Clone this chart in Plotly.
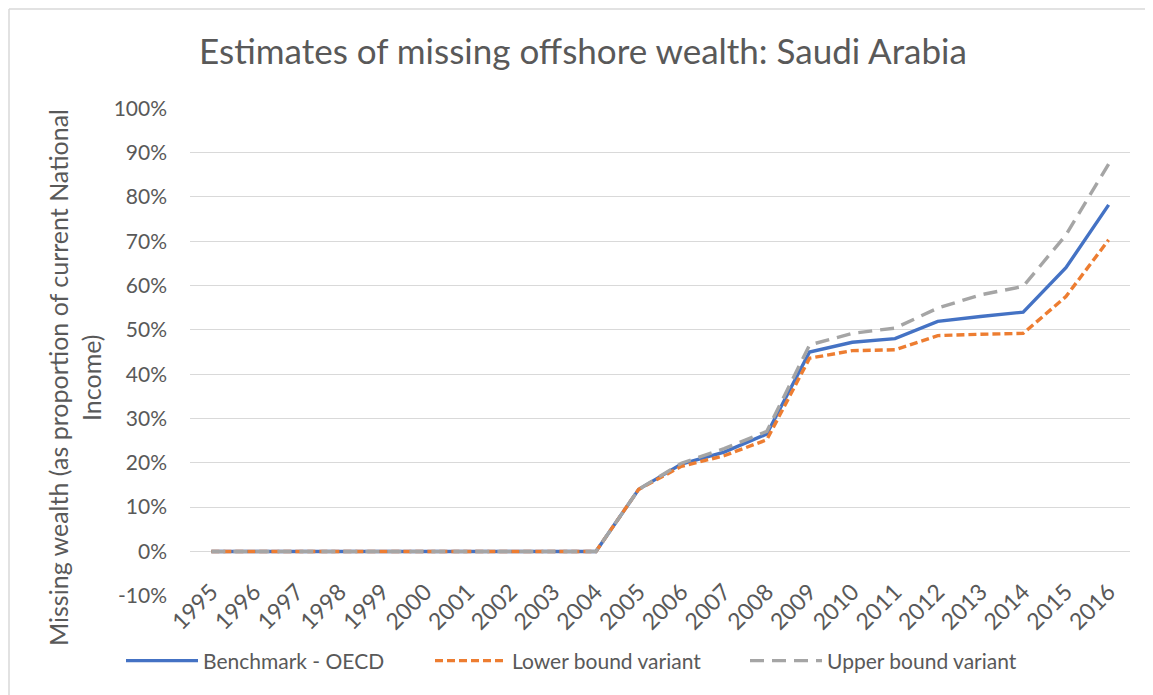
import plotly.graph_objects as go

years = [str(y) for y in range(1995, 2017)]

benchmark = [0, 0, 0, 0, 0, 0, 0, 0, 0, 0,
             0.140, 0.197, 0.224, 0.265, 0.450, 0.472, 0.480, 0.519, 0.530, 0.540, 0.640, 0.782]
lower = [0, 0, 0, 0, 0, 0, 0, 0, 0, 0,
         0.140, 0.192, 0.216, 0.252, 0.436, 0.453, 0.455, 0.487, 0.490, 0.492, 0.575, 0.703]
upper = [0, 0, 0, 0, 0, 0, 0, 0, 0, 0,
         0.140, 0.199, 0.232, 0.271, 0.466, 0.492, 0.504, 0.549, 0.579, 0.598, 0.714, 0.874]

y_ticks = [-0.1, 0, 0.1, 0.2, 0.3, 0.4, 0.5, 0.6, 0.7, 0.8, 0.9, 1.0]
y_tick_text = ["-10%", "0%", "10%", "20%", "30%", "40%", "50%", "60%", "70%", "80%", "90%", "100%"]

series_names = ["Benchmark - OECD", "Lower bound variant", "Upper bound variant"]
series_colors = ["#4472C4", "#ED7D31", "#A5A5A5"]
series_dash = ["solid", "8px,4px", "14px,8px"]
legend_ids = ["legend", "legend2", "legend3"]
legend_left_px = [121, 430, 745]

text_color = "#595959"
grid_color = "#D9D9D9"
font_family = "Lato, 'Open Sans', sans-serif"

# page body adds an 8px offset; positions below are in screen pixels
OFF = 8
W, H = 1153, 695
plot_left, plot_right, plot_top, plot_bottom = 190, 1130, 108, 596
plot_w = plot_right - plot_left
plot_h = plot_bottom - plot_top
L, T = plot_left - OFF, plot_top - OFF
R, B = W - (plot_right - OFF), H - (plot_bottom - OFF)


def px_x(p):
    return (p - plot_left) / plot_w


def px_y(p):
    return (plot_bottom - p) / plot_h


fig = go.Figure()
for name, vals, color, dash, leg in zip(series_names, [benchmark, lower, upper],
                                        series_colors, series_dash, legend_ids):
    fig.add_trace(go.Scatter(
        x=years, y=vals, name=name, mode="lines", legend=leg,
        line=dict(color=color, width=3.4, dash=dash),
    ))

legend_style = dict(
    orientation="h", xanchor="left", yanchor="middle", y=px_y(661),
    font=dict(size=21, color=text_color), itemwidth=72, bgcolor="rgba(0,0,0,0)",
)

fig.update_layout(
    width=W, height=H,
    margin=dict(l=L, r=R, t=T, b=B, autoexpand=False),
    paper_bgcolor="white", plot_bgcolor="white",
    font=dict(family=font_family, color=text_color, size=21),
    title=dict(
        text="Estimates of missing offshore wealth: Saudi Arabia",
        x=(583 - OFF) / W, xanchor="center", y=1 - (52 - OFF) / H, yanchor="middle",
        font=dict(size=35, color=text_color),
    ),
    legend=dict(x=px_x(legend_left_px[0]), **legend_style),
    legend2=dict(x=px_x(legend_left_px[1]), **legend_style),
    legend3=dict(x=px_x(legend_left_px[2]), **legend_style),
    showlegend=True,
)

fig.update_xaxes(
    type="category", range=[-0.5, 21.5], automargin=False,
    anchor="free", position=px_y(573),
    showgrid=False, showline=False, zeroline=False, ticks="",
    tickangle=-45, tickfont=dict(size=23, color=text_color),
)
fig.update_yaxes(
    range=[-0.1005, 1.0005], tickvals=y_ticks, ticktext=y_tick_text, automargin=False,
    showgrid=True, gridcolor=grid_color, gridwidth=1.3,
    zeroline=False, showline=False, ticks="", ticklabelstandoff=22,
    tickfont=dict(size=21, color=text_color),
)

y_title_lines = ["Missing wealth (as proportion of current National", "Income)"]
y_title_x = [58, 91]
for line, xp in zip(y_title_lines, y_title_x):
    fig.add_annotation(
        text=line, xref="paper", yref="paper", x=px_x(xp), y=px_y(378),
        xanchor="center", yanchor="middle", textangle=-90, showarrow=False,
        font=dict(size=25, color=text_color),
    )

# chart-area border (only top and left edges fall inside the frame)
border = dict(color=grid_color, width=1.5)
fig.add_shape(type="line", xref="paper", yref="paper",
              x0=px_x(9), y0=px_y(9), x1=px_x(1160), y1=px_y(9), line=border)
fig.add_shape(type="line", xref="paper", yref="paper",
              x0=px_x(9), y0=px_y(9), x1=px_x(9), y1=px_y(710), line=border)

fig.write_html("out.html")
